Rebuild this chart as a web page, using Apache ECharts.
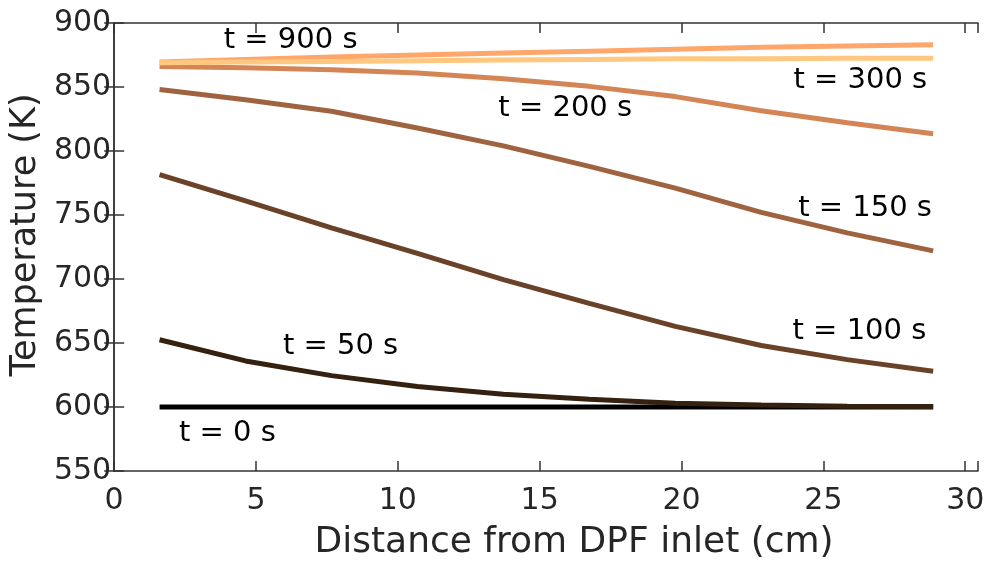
<!DOCTYPE html>
<html>
<head>
<meta charset="utf-8">
<script src="https://cdn.jsdelivr.net/npm/echarts@6/dist/echarts.min.js"></script>
<style>
  html, body { margin: 0; padding: 0; background: #fff; }
  #main { width: 991px; height: 566px; }
</style>
</head>
<body>
<div id="main"></div>
<script>
// positions along the filter (cm)
var distance = [1.6, 4.63, 7.66, 10.69, 13.72, 16.75, 19.78, 22.81, 25.84, 28.87];

// temperature profiles (K) at each time
var times = [0, 50, 100, 150, 200, 300, 900];
var temp0   = [600, 600, 600, 600, 600, 600, 600, 600, 600, 600];
var temp50  = [652.5, 636, 624.5, 616, 610, 606, 603, 601.5, 600.5, 600.3];
var temp100 = [781.5, 761, 740, 720, 699.5, 681, 663, 648, 637, 628];
var temp150 = [848, 840, 831, 818, 804, 788, 771, 752, 736, 722];
var temp200 = [866, 865, 863.5, 861, 856.5, 850.5, 842.5, 831.5, 822, 813.5];
var temp300 = [869.5, 871.5, 873.5, 875, 876.5, 878, 879.5, 881, 882, 883];
var temp900 = [869, 869.5, 870, 870.5, 871, 871.5, 872, 872, 872.5, 872.5];
var profiles = [temp0, temp50, temp100, temp150, temp200, temp300, temp900];

// copper colormap, dark -> light
var colors = ['#000000', '#35210f', '#6a4228', '#a0633f', '#d48555', '#ffa66a', '#ffc77f'];

// annotation text placed in data coordinates [x, T, text]
var notes = [
    [6.22, 886, 't = 900 s'],
    [26.3, 855, 't = 300 s'],
    [15.9, 833, 't = 200 s'],
    [26.47, 755, 't = 150 s'],
    [26.27, 659, 't = 100 s'],
    [7.98, 647, 't = 50 s'],
    [3.99, 579, 't = 0 s']
];

var font = 'DejaVu Sans';
var axisColor = '#333';
var textColor = '#262626';

var chart = echarts.init(document.getElementById('main'));

var series = profiles.map(function (vals, i) {
    return {
        name: 't = ' + times[i] + ' s',
        type: 'line',
        data: distance.map(function (d, j) { return [d, vals[j]]; }),
        showSymbol: false,
        symbol: 'none',
        lineStyle: { color: colors[i], width: 5 },
        silent: true,
        z: 2 + i
    };
});

// text labels (scatter default opacity is 0.8, reset so text stays black)
series.push({
    type: 'scatter',
    data: notes,
    symbolSize: 0,
    silent: true,
    z: 20,
    itemStyle: { opacity: 1 },
    label: {
        show: true,
        position: 'inside',
        formatter: function (p) { return p.value[2]; },
        fontFamily: font,
        fontSize: 29,
        color: '#000',
        opacity: 1
    }
});

var option = {
    animation: false,
    backgroundColor: '#fff',
    grid: { left: 112, right: 13, top: 23, bottom: 94 },
    xAxis: [
        {
            type: 'value', min: 0, max: 30.45, interval: 5,
            name: 'Distance from DPF inlet (cm)',
            nameLocation: 'middle', nameGap: 54,
            nameTextStyle: { fontFamily: font, fontSize: 36, color: textColor, padding: [0, 0, 0, 56] },
            axisLine: { show: true, lineStyle: { color: axisColor, width: 1.5 } },
            axisTick: { show: true, inside: true, length: 10, lineStyle: { color: axisColor, width: 1.5 } },
            axisLabel: {
                fontFamily: font, fontSize: 30, color: textColor, margin: 15,
                formatter: function (v) { return v % 5 === 0 ? v : ''; }
            },
            splitLine: { show: false }
        },
        {
            type: 'value', min: 0, max: 30.45, interval: 5, position: 'top',
            axisLine: { show: true, lineStyle: { color: axisColor, width: 1.5 } },
            axisTick: { show: true, inside: true, length: 10, lineStyle: { color: axisColor, width: 1.5 } },
            axisLabel: { show: false },
            splitLine: { show: false }
        }
    ],
    yAxis: [
        {
            type: 'value', min: 550, max: 900, interval: 50,
            name: 'Temperature (K)',
            nameLocation: 'middle', nameGap: 58,
            nameTextStyle: { fontFamily: font, fontSize: 35, color: textColor, padding: [0, 0, 0, 24] },
            axisLine: { show: true, lineStyle: { color: axisColor, width: 1.5 } },
            axisTick: { show: true, inside: true, length: 10, lineStyle: { color: axisColor, width: 1.5 } },
            axisLabel: { fontFamily: font, fontSize: 30, color: textColor, margin: 3 },
            splitLine: { show: false }
        },
        {
            type: 'value', min: 550, max: 900, interval: 50, position: 'right',
            axisLine: { show: true, lineStyle: { color: axisColor, width: 1.5 } },
            axisTick: { show: true, inside: true, length: 10, lineStyle: { color: axisColor, width: 1.5 } },
            axisLabel: { show: false },
            splitLine: { show: false }
        }
    ],
    series: series
};

chart.setOption(option);
</script>
</body>
</html>
